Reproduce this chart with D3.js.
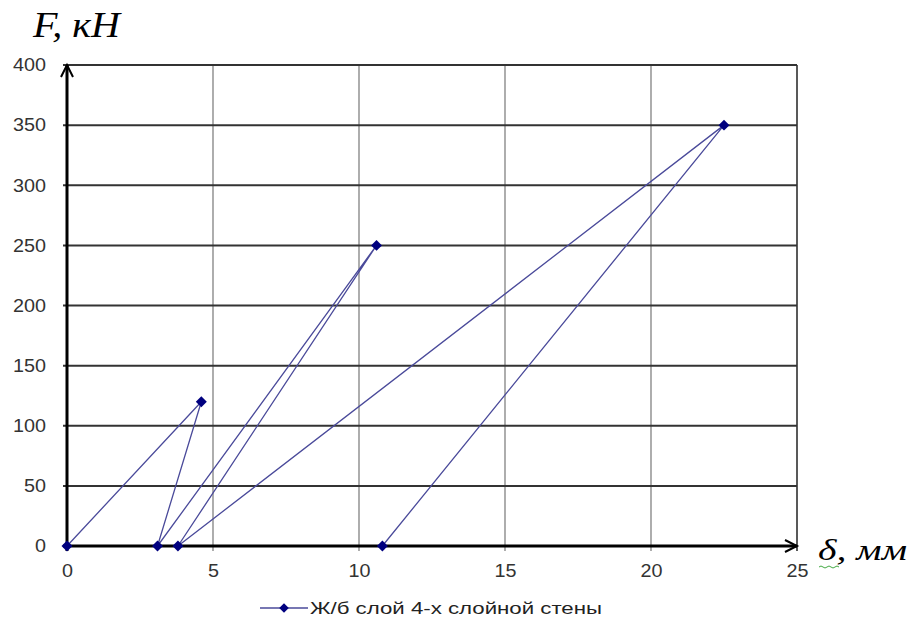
<!DOCTYPE html>
<html>
<head>
<meta charset="UTF-8">
<script src="https://d3js.org/d3.v7.min.js"></script>
<style>
    body{margin:0;background:#fff;}
</style>
</head>
<body>
<div id="container"></div>
<script>
    // данные: перемещение (мм) и нагрузка (кН)
    var delta=[0,4.6,3.1,10.6,3.8,22.5,10.8]
    var force=[0,120,0,250,0,350,0]
    var xTicks=[0,5,10,15,20,25]
    var yTicks=[0,50,100,150,200,250,300,350,400]
    var seriesName='Ж/б слой 4-х слойной стены'

    var width=912,height=630,margin={left:67,top:65,right:115,bottom:84}
    var g_width=width-margin.left-margin.right,
        g_height=height-margin.top-margin.bottom

    var x=d3.scaleLinear().domain([0,25]).range([0,g_width])
    var y=d3.scaleLinear().domain([0,400]).range([g_height,0])

    var svg=d3.select('#container').append('svg')
        .attr('width',width).attr('height',height)
    var g=svg.append('g')
        .attr('transform','translate('+margin.left+','+margin.top+')')

    // сетка
    g.selectAll('.vgrid').data(xTicks.slice(1)).enter().append('line')
        .attr('x1',d=>x(d)).attr('x2',d=>x(d))
        .attr('y1',0).attr('y2',g_height+5)
        .attr('stroke',d=>d==25?'#222':'#777').attr('stroke-width',d=>d==25?1.5:1.2)
    g.selectAll('.hgrid').data(yTicks.slice(1)).enter().append('line')
        .attr('x1',-4).attr('x2',g_width)
        .attr('y1',d=>y(d)).attr('y2',d=>y(d))
        .attr('stroke','#333').attr('stroke-width',2)

    // оси
    var xAxis=d3.axisBottom(x).tickValues(xTicks).tickSize(0).tickPadding(18)
    var yAxis=d3.axisLeft(y).tickValues(yTicks).tickSize(0).tickPadding(21)
    var gx=g.append('g').attr('transform','translate(0,'+g_height+')').call(xAxis)
    var gy=g.append('g').call(yAxis)
    ;[gx,gy].forEach(function(a){
        a.select('.domain').remove()
        a.selectAll('text')
            .attr('textLength',d=>String(d).length*11)
            .attr('lengthAdjust','spacingAndGlyphs')
            .style('font-family','"Liberation Sans",Arial,sans-serif')
            .style('font-size','18px').style('fill','#333')
    })

    // стрелки осей
    g.append('line').attr('x1',-4).attr('x2',g_width).attr('y1',g_height).attr('y2',g_height)
        .attr('stroke','#000').attr('stroke-width',3)
    g.append('line').attr('x1',0).attr('x2',0).attr('y1',g_height+5).attr('y2',0)
        .attr('stroke','#000').attr('stroke-width',3)
    g.append('path').attr('d','M'+(g_width-12)+','+(g_height-6)+'L'+g_width+','+g_height+'L'+(g_width-12)+','+(g_height+6))
        .attr('fill','none').attr('stroke','#000').attr('stroke-width',2)
    g.append('path').attr('d','M-6,12L0,0L6,12')
        .attr('fill','none').attr('stroke','#000').attr('stroke-width',2)

    // линия
    var pts=delta.map((d,i)=>[d,force[i]])
    var line=d3.line().x(d=>x(d[0])).y(d=>y(d[1]))
    g.append('path').attr('d',line(pts))
        .attr('fill','none').attr('stroke','#4a4a9a').attr('stroke-width',1.3)

    // ромбики
    var diamond=d3.symbol().type(d3.symbolSquare).size(60)
    g.selectAll('.pt').data(pts).enter().append('path')
        .attr('d',diamond)
        .attr('transform',d=>'translate('+x(d[0])+','+y(d[1])+') rotate(45)')
        .attr('fill','#00007f')

    // подписи осей
    svg.append('text').text('F, кН')
        .attr('x',33).attr('y',37)
        .attr('textLength',87).attr('lengthAdjust','spacingAndGlyphs')
        .style('font-family','"Liberation Serif","Times New Roman",serif')
        .style('font-style','italic').style('font-size','36px')
    svg.append('text').text('δ, мм')
        .attr('x',818).attr('y',560)
        .attr('textLength',89).attr('lengthAdjust','spacingAndGlyphs')
        .style('font-family','"Liberation Serif","Times New Roman",serif')
        .style('font-style','italic').style('font-size','29px')
    // волнистое подчёркивание под δ
    svg.append('path')
        .attr('d','M819,567 q2,-2 4,0 t4,0 t4,0 t4,0 t4,0')
        .attr('fill','none').attr('stroke','#4a4').attr('stroke-width',1)

    // легенда
    var lg=svg.append('g').attr('transform','translate(260,608)')
    lg.append('line').attr('x1',0).attr('x2',48).attr('y1',0).attr('y2',0)
        .attr('stroke','#4a4a9a').attr('stroke-width',1.5)
    lg.append('path').attr('d',d3.symbol().type(d3.symbolSquare).size(45))
        .attr('transform','translate(24,0) rotate(45)').attr('fill','#00007f')
    lg.append('text').text(seriesName).attr('x',50).attr('y',6)
        .attr('textLength',292).attr('lengthAdjust','spacingAndGlyphs')
        .style('font-family','"Liberation Sans",Arial,sans-serif').style('font-size','16px')
        .style('fill','#222')
</script>
</body>
</html>
